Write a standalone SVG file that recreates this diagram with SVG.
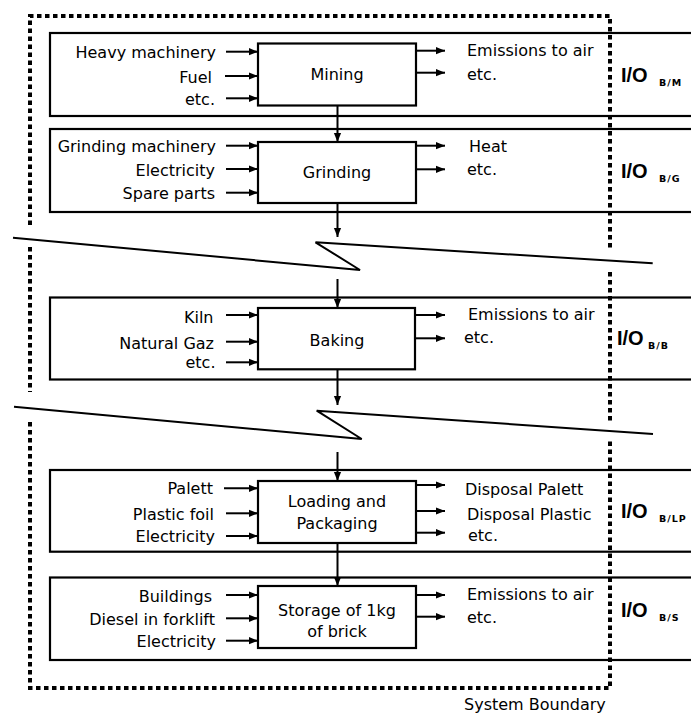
<svg xmlns="http://www.w3.org/2000/svg" width="691" height="716" viewBox="0 0 691 716">
<style>
text{font-family:"DejaVu Sans","Liberation Sans",sans-serif;font-size:16px;fill:#000}
.in{text-anchor:end}
.lbl{text-anchor:middle}
.io{font-family:"Liberation Sans",Arial,sans-serif;font-weight:bold;font-size:20px}
.sub{font-weight:bold;font-size:9.5px;letter-spacing:1px}
.panel,.box{fill:none;stroke:#000;stroke-width:2.2}
.box{fill:#fff}
.arr{stroke:#000;stroke-width:2;fill:none;marker-end:url(#ah)}
.brk{stroke:#000;stroke-width:2;fill:none;stroke-linejoin:miter}
.bnd{stroke:#000;stroke-width:4;fill:none;stroke-dasharray:4.5 3.5}
</style>
<defs>
<marker id="ah" viewBox="0 0 10 10" refX="10" refY="5" markerWidth="9" markerHeight="9" markerUnits="userSpaceOnUse" orient="auto">
<path d="M0,1 L10,5 L0,9 z" fill="#000"/>
</marker>
</defs>
<rect width="691" height="716" fill="#fff"/>

<g id="boundary">
<path class="bnd" d="M30,225 V16 H610 V248"/>
<path class="bnd" d="M30,247 V392"/>
<path class="bnd" d="M610,272 V422"/>
<path class="bnd" d="M30,422 V688 H610 V438"/>
<text x="464" y="710">System Boundary</text>
</g>

<g id="breaks">
<polyline class="brk" points="13,237.7 360,270 315.5,242.3 652.7,263.3"/>
<polyline class="brk" points="14,406.7 361.7,439 316.7,410.7 653,434"/>
</g>

<g id="panels">
<rect class="panel" x="50" y="33" width="660" height="83"/>
<rect class="panel" x="50" y="129" width="660" height="83"/>
<rect class="panel" x="50" y="297.5" width="660" height="82"/>
<rect class="panel" x="50" y="470" width="660" height="81.7"/>
<rect class="panel" x="50" y="577.5" width="660" height="82.5"/>
</g>

<g id="connectors">
<line class="arr" x1="337.5" y1="106" x2="337.5" y2="142"/>
<line class="arr" x1="337.5" y1="203" x2="337.5" y2="237"/>
<line class="arr" x1="337.5" y1="279" x2="337.5" y2="308"/>
<line class="arr" x1="337.5" y1="369" x2="337.5" y2="405"/>
<line class="arr" x1="337.5" y1="452" x2="337.5" y2="481"/>
<line class="arr" x1="337.5" y1="543" x2="337.5" y2="586"/>
<!-- inputs -->
<line class="arr" x1="226" y1="51.7" x2="258" y2="51.7"/>
<line class="arr" x1="225" y1="76" x2="258" y2="76"/>
<line class="arr" x1="226" y1="98.3" x2="258" y2="98.3"/>
<line class="arr" x1="226" y1="145.7" x2="258" y2="145.7"/>
<line class="arr" x1="226" y1="169" x2="258" y2="169"/>
<line class="arr" x1="226" y1="192.7" x2="258" y2="192.7"/>
<line class="arr" x1="226" y1="315" x2="258" y2="315"/>
<line class="arr" x1="226" y1="341.7" x2="258" y2="341.7"/>
<line class="arr" x1="226" y1="362.3" x2="258" y2="362.3"/>
<line class="arr" x1="224" y1="488.3" x2="258" y2="488.3"/>
<line class="arr" x1="226" y1="513.3" x2="258" y2="513.3"/>
<line class="arr" x1="226" y1="536" x2="258" y2="536"/>
<line class="arr" x1="226" y1="595" x2="258" y2="595"/>
<line class="arr" x1="226" y1="618.3" x2="258" y2="618.3"/>
<line class="arr" x1="226" y1="640.7" x2="258" y2="640.7"/>
<!-- outputs -->
<line class="arr" x1="416" y1="50.7" x2="445" y2="50.7"/>
<line class="arr" x1="416" y1="72.7" x2="445" y2="72.7"/>
<line class="arr" x1="416" y1="145.7" x2="445" y2="145.7"/>
<line class="arr" x1="416" y1="169.3" x2="445" y2="169.3"/>
<line class="arr" x1="416" y1="315" x2="445" y2="315"/>
<line class="arr" x1="416" y1="338.3" x2="445" y2="338.3"/>
<line class="arr" x1="416" y1="485" x2="445" y2="485"/>
<line class="arr" x1="416" y1="511" x2="445" y2="511"/>
<line class="arr" x1="416" y1="532.7" x2="445" y2="532.7"/>
<line class="arr" x1="416" y1="595" x2="445" y2="595"/>
<line class="arr" x1="416" y1="616.7" x2="445" y2="616.7"/>
</g>

<g id="mining">
<rect class="box" x="258" y="43.5" width="158" height="62"/>
<text class="lbl" x="337" y="80">Mining</text>
<text class="in" x="216" y="58">Heavy machinery</text>
<text class="in" x="212" y="82.5">Fuel</text>
<text class="in" x="215" y="104.5">etc.</text>
<text x="467" y="56">Emissions to air</text>
<text x="467" y="80">etc.</text>
<text class="io" x="621" y="82">I/O</text><text class="sub" x="659" y="86">B/M</text>
</g>

<g id="grinding">
<rect class="box" x="258" y="142" width="158" height="61"/>
<text class="lbl" x="337" y="178">Grinding</text>
<text class="in" x="216" y="152">Grinding machinery</text>
<text class="in" x="215" y="176">Electricity</text>
<text class="in" x="215" y="199">Spare parts</text>
<text x="469" y="152">Heat</text>
<text x="467" y="175">etc.</text>
<text class="io" x="621" y="178">I/O</text><text class="sub" x="659" y="182">B/G</text>
</g>

<g id="baking">
<rect class="box" x="258" y="308" width="157" height="61.3"/>
<text class="lbl" x="337" y="346">Baking</text>
<text class="in" x="213.5" y="322.5">Kiln</text>
<text class="in" x="214" y="348.5">Natural Gaz</text>
<text class="in" x="215.5" y="367.5">etc.</text>
<text x="468" y="319.5">Emissions to air</text>
<text x="464" y="343">etc.</text>
<text class="io" x="617" y="345">I/O</text><text class="sub" x="648" y="349">B/B</text>
</g>

<g id="loading">
<rect class="box" x="258" y="481" width="158" height="62"/>
<text class="lbl" x="337" y="507">Loading and</text>
<text class="lbl" x="337" y="529">Packaging</text>
<text class="in" x="213" y="494">Palett</text>
<text class="in" x="214" y="519.5">Plastic foil</text>
<text class="in" x="215" y="542">Electricity</text>
<text x="465" y="495">Disposal Palett</text>
<text x="467" y="519.5">Disposal Plastic</text>
<text x="468" y="541">etc.</text>
<text class="io" x="621" y="518">I/O</text><text class="sub" x="659" y="522">B/LP</text>
</g>

<g id="storage">
<rect class="box" x="258" y="586" width="158" height="62"/>
<text class="lbl" x="337" y="615.5">Storage of 1kg</text>
<text class="lbl" x="337" y="637">of brick</text>
<text class="in" x="212" y="601.5">Buildings</text>
<text class="in" x="215" y="625">Diesel in forklift</text>
<text class="in" x="216" y="647">Electricity</text>
<text x="467" y="600">Emissions to air</text>
<text x="467" y="623">etc.</text>
<text class="io" x="621" y="617">I/O</text><text class="sub" x="659" y="621">B/S</text>
</g>
</svg>
